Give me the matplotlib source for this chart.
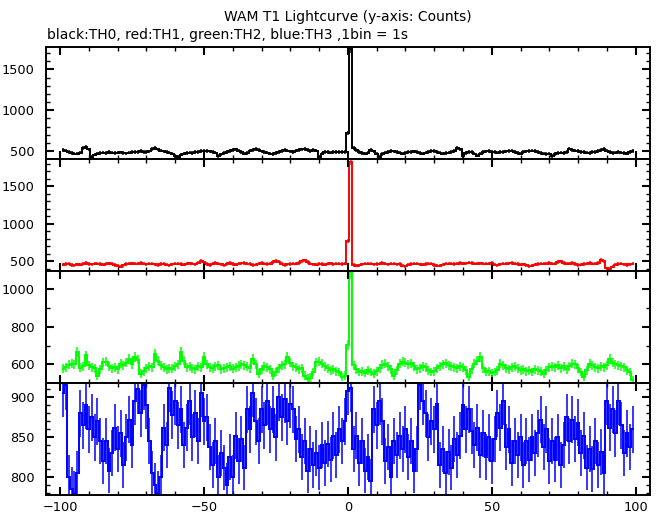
import numpy as np
import matplotlib
matplotlib.use("Agg")
import matplotlib.pyplot as plt
from matplotlib.ticker import MultipleLocator

# time bins (1 s), centred on -99 ... 99
t = np.arange(-99, 100)

th0 = [512, 505, 490, 478, 470, 468, 482, 535, 548, 520,
       430, 455, 468, 475, 480, 478, 485, 482, 476, 480,
       484, 478, 472, 480, 488, 485, 492, 500, 490, 486,
       495, 525, 540, 520, 505, 495, 488, 480, 470, 440,
       430, 455, 470, 478, 482, 475, 488, 492, 498, 505,
       500, 495, 490, 482, 440, 460, 478, 488, 500, 515,
       520, 505, 485, 470, 478, 505, 515, 525, 510, 495,
       485, 480, 470, 462, 475, 490, 500, 510, 505, 495,
       488, 505, 515, 520, 525, 510, 500, 515, 505, 430,
       470, 485, 490, 480, 488, 492, 485, 490, 488, 720,
       1745, 540, 510, 490, 478, 470, 480, 510, 495, 470,
       430, 465, 480, 490, 500, 495, 488, 480, 470, 478,
       485, 492, 495, 485, 478, 470, 480, 492, 500, 498,
       485, 480, 470, 475, 482, 488, 500, 535, 520, 440,
       475, 485, 490, 470, 445, 470, 485, 495, 500, 492,
       488, 482, 485, 490, 495, 500, 505, 488, 478, 470,
       485, 495, 500, 505, 498, 488, 478, 470, 465, 470,
       440, 462, 475, 482, 478, 488, 530, 515, 505, 498,
       492, 488, 482, 478, 485, 490, 500, 515, 525, 505,
       485, 478, 482, 488, 480, 475, 470, 490, 502]

th1 = [455, 462, 468, 450, 445, 460, 455, 470, 478, 462,
       458, 465, 470, 462, 455, 468, 472, 465, 450, 440,
       430, 445, 462, 468, 472, 465, 470, 478, 468, 460,
       465, 470, 458, 450, 462, 470, 455, 448, 458, 465,
       470, 462, 455, 468, 472, 465, 460, 480, 505, 485,
       462, 450, 470, 478, 465, 460, 445, 470, 475, 462,
       455, 468, 472, 478, 470, 465, 450, 455, 470, 475,
       468, 462, 470, 488, 505, 495, 470, 450, 458, 462,
       470, 465, 478, 500, 512, 490, 468, 460, 452, 470,
       462, 455, 468, 472, 460, 465, 470, 462, 468, 770,
       1830, 450, 438, 445, 460, 468, 465, 470, 458, 462,
       470, 475, 468, 460, 470, 465, 458, 462, 440, 435,
       455, 462, 470, 466, 460, 455, 462, 468, 470, 450,
       440, 438, 455, 465, 470, 468, 462, 470, 475, 468,
       472, 480, 475, 470, 468, 472, 470, 465, 470, 475,
       455, 445, 460, 470, 468, 472, 478, 470, 462, 455,
       460, 448, 435, 440, 455, 462, 465, 470, 468, 475,
       470, 465, 490, 500, 478, 465, 470, 478, 462, 450,
       455, 462, 470, 475, 470, 465, 478, 515, 500, 405,
       400, 430, 455, 462, 468, 460, 445, 458, 470]

th2 = [578, 585, 598, 605, 600, 665, 583, 590, 648, 595,
       585, 580, 540, 575, 612, 615, 590, 580, 585, 575,
       604, 595, 610, 630, 600, 640, 625, 550, 565, 580,
       590, 586, 657, 620, 595, 586, 575, 580, 578, 590,
       600, 665, 620, 586, 590, 580, 575, 590, 585, 640,
       600, 586, 580, 590, 595, 575, 580, 586, 590, 578,
       585, 592, 600, 595, 588, 580, 630, 600, 550, 575,
       590, 586, 575, 540, 560, 580, 595, 600, 640, 610,
       590, 586, 575, 580, 540, 524, 530, 560, 612, 615,
       605, 590, 580, 570, 575, 565, 560, 533, 540, 705,
       1090, 595, 575, 560, 565, 555, 570, 560, 550, 565,
       580, 598, 605, 590, 575, 540, 570, 604, 615, 610,
       600, 606, 590, 575, 580, 590, 586, 570, 560, 565,
       580, 590, 600, 606, 595, 590, 586, 580, 590, 585,
       570, 533, 575, 604, 620, 640, 580, 560, 565, 555,
       560, 570, 604, 595, 580, 575, 586, 590, 580, 570,
       575, 565, 570, 560, 575, 570, 565, 550, 570, 586,
       590, 586, 595, 580, 590, 575, 590, 604, 600, 580,
       560, 533, 570, 604, 595, 586, 580, 590, 586, 595,
       630, 610, 600, 595, 590, 585, 570, 560, 515]

th3 = [905, 915, 800, 785, 780, 805, 880, 865, 890, 860,
       875, 850, 870, 845, 820, 845, 808, 830, 862, 835,
       855, 815, 850, 872, 840, 895, 910, 880, 915, 890,
       845, 805, 790, 780, 800, 862, 840, 912, 878, 895,
       865, 885, 840, 862, 895, 850, 880, 845, 905, 870,
       875, 838, 815, 845, 800, 830, 812, 790, 825, 800,
       852, 820, 848, 812, 885, 860, 905, 870, 845, 885,
       865, 895, 860, 885, 850, 900, 875, 898, 870, 892,
       885, 848, 860, 825, 845, 808, 835, 815, 830, 812,
       840, 818, 842, 822, 852, 828, 860, 845, 870, 908,
       912, 835, 852, 818, 845, 808, 825, 795, 885, 865,
       895, 870, 820, 838, 800, 845, 828, 852, 835, 860,
       825, 845, 808, 835, 915, 895, 880, 850, 870, 860,
       892, 815, 835, 805, 832, 812, 848, 828, 852, 890,
       860, 885, 858, 840, 862, 828, 855, 825, 850, 820,
       848, 880, 862, 895, 838, 860, 818, 845, 828, 850,
       815, 845, 822, 850, 830, 855, 872, 838, 860, 820,
       845, 822, 850, 815, 840, 875, 845, 872, 848, 868,
       830, 852, 812, 835, 810, 845, 815, 832, 805, 895,
       862, 885, 855, 895, 865, 830, 855, 838, 860]

series = [th0, th1, th2, th3]
colors = ["black", "#ff0000", "#00ff00", "#0000ff"]
ylims = [(400, 1770), (368, 1861), (501, 1097), (777.6, 918)]
major = [500, 500, 200, 50]
minor = [100, 100, 100, 10]

plt.rcParams.update({
    "font.family": "DejaVu Sans",
    "font.size": 9.3,
})

fig = plt.figure(figsize=(6.62, 5.15), dpi=100)
axes = fig.subplots(4, 1, sharex=True, gridspec_kw=dict(hspace=0))
fig.subplots_adjust(left=45.7 / 662, right=650 / 662,
                    top=1 - 47.3 / 515, bottom=1 - 495 / 515)

edges = np.append(t - 0.5, t[-1] + 0.5)
for ax, vals, c, yl, mj, mn in zip(axes, series, colors, ylims, major, minor):
    v = np.asarray(vals, dtype=float)
    err = np.sqrt(v)  # Poisson errors
    ax.stairs(v, edges, baseline=None, color=c, lw=1.4)
    ax.vlines(t, v - err, v + err, color=c, lw=1.1)
    ax.set_ylim(*yl)
    ax.set_xlim(-105, 105)
    ax.yaxis.set_major_locator(MultipleLocator(mj))
    ax.yaxis.set_minor_locator(MultipleLocator(mn))
    ax.xaxis.set_major_locator(MultipleLocator(50))
    ax.xaxis.set_minor_locator(MultipleLocator(10))
    ax.tick_params(which="both", direction="in", top=True, right=True,
                   color="black")
    ax.tick_params(which="major", length=5.5, width=1.5)
    ax.tick_params(which="minor", length=3.2, width=1.0)
    ax.tick_params(axis="y", pad=8)
    ax.tick_params(axis="x", pad=4)
    for s in ax.spines.values():
        s.set_linewidth(1.4)

fig.text(348 / 662, 1 - 17 / 515, "WAM T1 Lightcurve (y-axis: Counts)",
         ha="center", va="center", fontsize=10)
fig.text(47 / 662, 1 - 35 / 515,
         "black:TH0, red:TH1, green:TH2, blue:TH3 ,1bin = 1s",
         ha="left", va="center", fontsize=10)

fig.savefig("out.png", dpi=100)
